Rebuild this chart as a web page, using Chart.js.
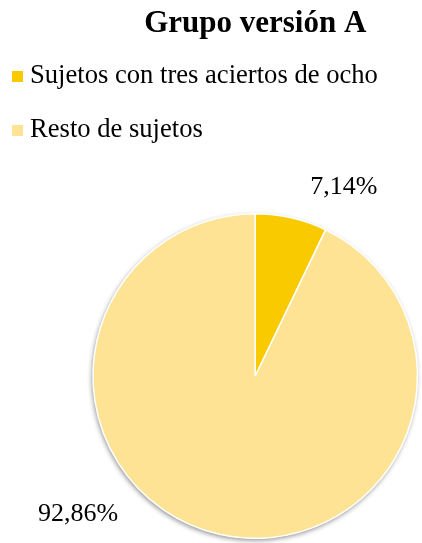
<!DOCTYPE html>
<html>
<head>
<meta charset="utf-8">
<script src="https://cdn.jsdelivr.net/npm/chart.js@4/dist/chart.umd.min.js"></script>
<style>
html,body{margin:0;padding:0;background:#ffffff;}
#wrap{width:422px;height:543px;position:relative;}
canvas{display:block;}
</style>
</head>
<body>
<div id="wrap"><canvas id="c" width="422" height="543"></canvas></div>
<script>
const chartTitle = 'Grupo versión A';
const categories = ['Sujetos con tres aciertos de ocho', 'Resto de sujetos'];
const percentValues = [7.14, 92.86];
const sliceColors = ['#F9CA00', '#FEE394'];

const serif = "'Liberation Serif', 'Times New Roman', Times, serif";

function fmtPct(v) { return v.toFixed(2).replace('.', ',') + '%'; }

const shadowPlugin = {
  id: 'pieShadow',
  beforeDatasetsDraw(chart) {
    const meta = chart.getDatasetMeta(0);
    if (!meta.data.length) return;
    const a = meta.data[0];
    const ctx = chart.ctx;
    ctx.save();
    ctx.shadowColor = 'rgba(0,0,0,0.45)';
    ctx.shadowBlur = 5;
    ctx.shadowOffsetX = -1;
    ctx.shadowOffsetY = 2;
    ctx.fillStyle = '#ffffff';
    ctx.beginPath();
    ctx.arc(a.x, a.y, a.outerRadius, 0, Math.PI * 2);
    ctx.fill();
    ctx.restore();
  }
};

const labelPlugin = {
  id: 'outLabels',
  afterDatasetsDraw(chart, args, opts) {
    const meta = chart.getDatasetMeta(0);
    const ctx = chart.ctx;
    ctx.save();
    ctx.font = opts.font;
    ctx.fillStyle = '#000000';
    ctx.textAlign = 'center';
    ctx.textBaseline = 'middle';
    meta.data.forEach((arc, i) => {
      const ang = opts.angles[i] * Math.PI / 180;
      const d = arc.outerRadius * opts.dist[i];
      const x = arc.x + d * Math.sin(ang);
      const y = arc.y - d * Math.cos(ang);
      ctx.fillText(fmtPct(percentValues[i]), x, y);
    });
    ctx.restore();
  }
};

const legendPlugin = {
  id: 'listLegend',
  afterDraw(chart, args, opts) {
    const ctx = chart.ctx;
    ctx.save();
    ctx.font = opts.font;
    ctx.textAlign = 'left';
    ctx.textBaseline = 'middle';
    categories.forEach((lab, i) => {
      const y = opts.top + i * opts.rowGap;
      ctx.fillStyle = sliceColors[i];
      ctx.fillRect(opts.left, y - opts.box / 2, opts.box, opts.box);
      ctx.fillStyle = '#000000';
      ctx.fillText(lab, opts.textX, y);
    });
    ctx.restore();
  }
};

new Chart(document.getElementById('c'), {
  type: 'pie',
  data: {
    labels: categories,
    datasets: [{
      data: percentValues,
      backgroundColor: sliceColors,
      borderColor: '#ffffff',
      borderWidth: 1.5
    }]
  },
  options: {
    responsive: false,
    animation: false,
    layout: { padding: { left: 92, right: 3.5, top: 0, bottom: 4 } },
    plugins: {
      legend: { display: false },
      tooltip: { enabled: false },
      title: {
        display: true,
        text: chartTitle,
        color: '#000000',
        font: { family: serif, size: 31, weight: 'bold', lineHeight: 1.2 },
        padding: { top: 5, bottom: 170.8 }
      },
      outLabels: { font: "26px " + serif, angles: [25.1, 232], dist: [1.287, 1.385] },
      listLegend: { font: "26.6px " + serif, top: 76.5, rowGap: 54, left: 12, box: 11, textX: 30 }
    }
  },
  plugins: [shadowPlugin, labelPlugin, legendPlugin]
});
</script>
</body>
</html>
